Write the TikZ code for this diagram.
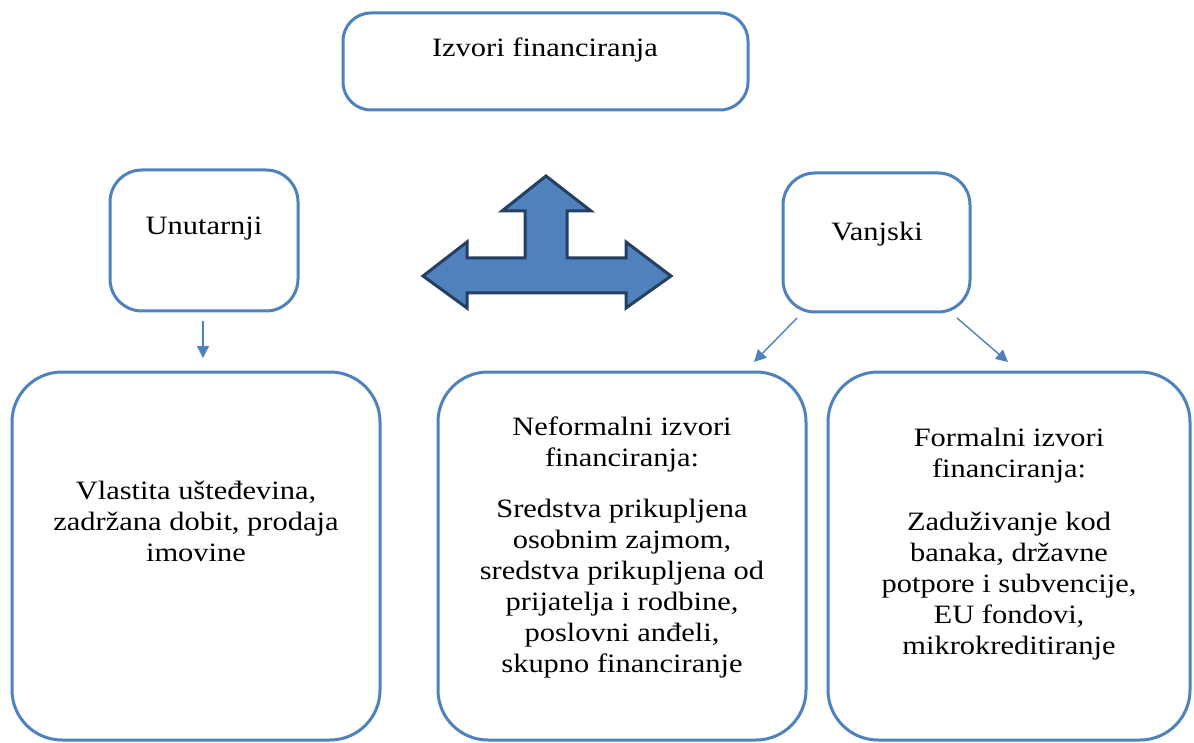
\documentclass[tikz,border=0pt]{standalone}
\usepackage{fontspec}
\setmainfont{Liberation Serif}[FakeStretch=1.15]
\usetikzlibrary{arrows.meta}
\definecolor{boxblue}{HTML}{4F81BD}
\definecolor{navy}{HTML}{243F60}
\tikzset{
  box/.style={draw=boxblue, line width=3pt, rounded corners=#1, fill=white},
  box/.default=30pt,
  txt/.style={align=center, inner sep=0pt, font=\fontsize{26.5}{31}\selectfont},
  link/.style={draw=boxblue, line width=1.4pt, -{Triangle[length=12pt,width=12pt]}},
  bigarrow/.style={fill=boxblue, draw=navy, line width=3pt, line join=miter}
}
\begin{document}
\begin{tikzpicture}[x=1pt,y=-1pt]
\useasboundingbox (0,0) rectangle (1194,743);
% boxes
\draw[box=28pt] (343,13) rectangle (748,110);
\node[txt] (ttop) at (545,50) {Izvori financiranja};
\draw[box=32pt] (110,170) rectangle (298,311);
\node[txt] (tunu) at (204,229) {Unutarnji};
\draw[box=32pt] (783,173) rectangle (970,312);
\node[txt] (tvan) at (877,234) {Vanjski};
\draw[box=50pt] (12,372) rectangle (380,740);
\node[txt] (tleft) at (196,521) {Vlastita ušteđevina,\\zadržana dobit, prodaja\\imovine};
\draw[box=50pt] (438,372) rectangle (806,740);
\node[txt] (tmid) at (622,547) {Neformalni izvori\\financiranja:\\[20pt]Sredstva prikupljena\\osobnim zajmom,\\sredstva prikupljena od\\prijatelja i rodbine,\\poslovni anđeli,\\skupno financiranje};
\draw[box=50pt] (828,372) rectangle (1190,740);
\node[txt] (tright) at (1009,544) {Formalni izvori\\financiranja:\\[22pt]Zaduživanje kod\\banaka, državne\\potpore i subvencije,\\EU fondovi,\\mikrokreditiranje};
% big three-way arrow
\draw[bigarrow] (546,176) -- (591,211) -- (567,211) -- (567,258) -- (626,258) -- (626,242)
  -- (671,276) -- (626,308) -- (626,293) -- (467,293) -- (467,308) -- (423,276)
  -- (467,242) -- (467,258) -- (525,258) -- (525,211) -- (502,211) -- cycle;
% small connectors
\coordinate (a1) at (203,321);
\coordinate (a2) at (203,358);
\coordinate (b1) at (797,318);
\coordinate (b2) at (754,362);
\coordinate (c1) at (957,318);
\coordinate (c2) at (1008,362);
\draw[link] (a1) -- (a2);
\draw[link] (b1) -- (b2);
\draw[link] (c1) -- (c2);
\end{tikzpicture}
\end{document}
